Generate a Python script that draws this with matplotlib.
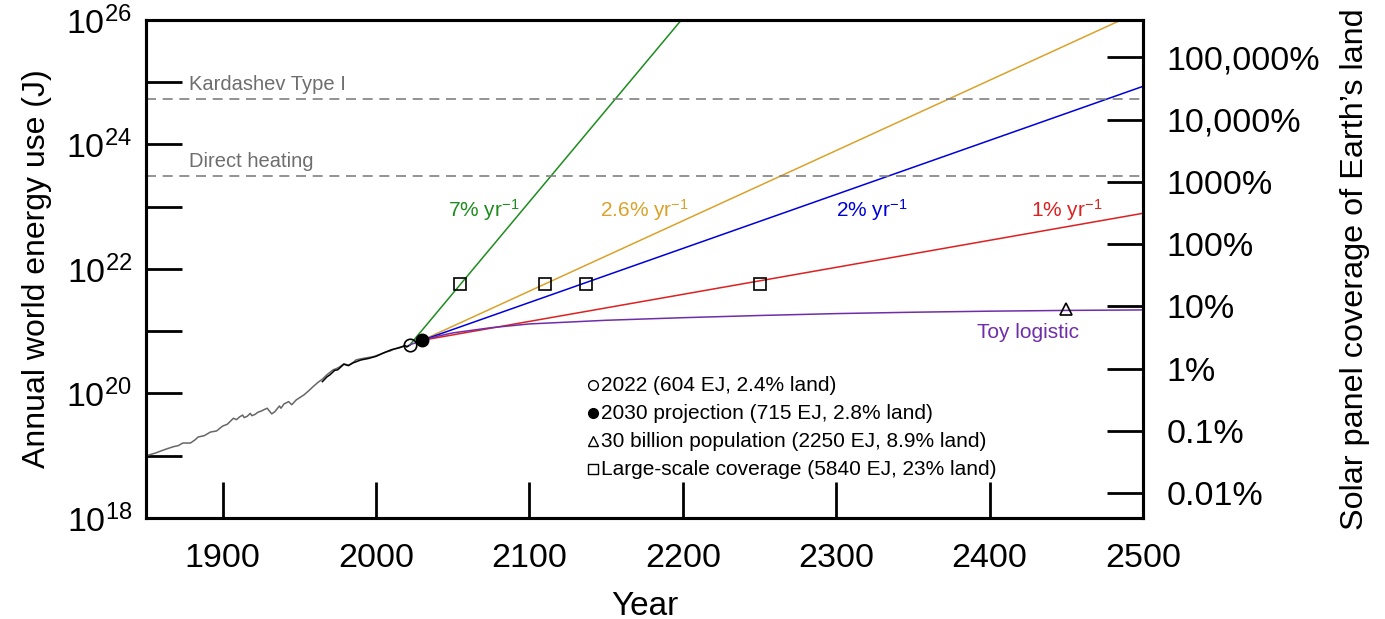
import numpy as np
import matplotlib
matplotlib.use("Agg")
import matplotlib.pyplot as plt
from matplotlib.ticker import FixedLocator, FixedFormatter, NullLocator

plt.rcParams['font.family'] = ['Liberation Sans', 'DejaVu Sans']
plt.rcParams['mathtext.fontset'] = 'custom'
plt.rcParams['mathtext.rm'] = 'Liberation Sans'
plt.rcParams['mathtext.it'] = 'Liberation Sans:italic'
plt.rcParams['mathtext.bf'] = 'Liberation Sans:bold'

# historical energy use (EJ), long series and recent series
hist_years = [1850, 1856, 1860, 1864, 1868, 1871, 1874, 1877, 1879, 1882, 1884, 1888,
              1892, 1896, 1900, 1903, 1907, 1909, 1911, 1913, 1914, 1916, 1918, 1919,
              1921, 1923, 1925, 1927, 1929, 1930, 1932, 1934, 1937, 1938, 1940, 1943,
              1945, 1946, 1948, 1950, 1953, 1956, 1959, 1962, 1965, 1968, 1972, 1974,
              1976, 1979, 1982, 1985, 1987, 1990, 1994, 1998, 2002, 2007, 2009, 2012,
              2015, 2019, 2020, 2022]
hist_ej = [10, 11, 12, 13, 14, 14.5, 16, 16, 16, 18, 20, 21,
           24, 25, 30, 32, 40, 38, 42, 45, 41, 43, 48, 44,
           46, 50, 52, 55, 58, 54, 47, 51, 63, 58, 68, 74,
           66, 70, 79, 85, 95, 110, 129, 150, 170, 200, 240, 250,
           265, 300, 285, 315, 347, 360, 375, 389, 420, 468, 480, 520,
           550, 590, 565, 604]

recent_years = [1965, 1968, 1970, 1973, 1975, 1979, 1982, 1985, 1990, 1995, 2000,
                2005, 2010, 2015, 2019, 2020, 2022]
recent_ej = [155, 185, 200, 235, 240, 295, 280, 310, 345, 365, 395,
             450, 505, 540, 585, 560, 598]

# growth scenarios: start point and end point (J)
scen_labels = ['7% yr$^{-1}$', '2.6% yr$^{-1}$', '2% yr$^{-1}$', '1% yr$^{-1}$']
scen_colors = ['#1e8c1e', '#daa22a', '#0000dd', '#dd2020']
scen_start_year = [2022, 2030, 2030, 2030]
scen_start_val = [6.04e20, 7.15e20, 7.15e20, 7.15e20]
scen_end_year = [2200, 2500, 2500, 2500]
scen_end_val = [1.07e26, 1.45e26, 8.6e24, 7.85e22]
scen_label_xy = [(2070, 9e22), (2175, 9e22), (2323, 9e22), (2450, 9e22)]

# toy logistic
logi_years = [2022, 2030, 2040, 2050, 2075, 2100, 2150, 2200, 2250, 2300, 2350, 2400, 2450, 2500]
logi_vals = [6.04e20, 7.15e20, 8.3e20, 9.4e20, 1.14e21, 1.31e21, 1.5e21, 1.65e21,
             1.79e21, 1.92e21, 2.02e21, 2.1e21, 2.16e21, 2.2e21]

# coverage markers
square_years = [2055, 2110, 2137, 2250]
square_val = 5.84e21
tri_year, tri_val = 2450, 2.25e21

kardashev = 5.4e24
direct_heat = 3.1e23
full_cover = 604e18 / 0.024   # J for 100% land

pct_ticks = [0.01, 0.1, 1, 10, 100, 1000, 10000, 100000]
pct_labels = ['0.01%', '0.1%', '1%', '10%', '100%', '1000%', '10,000%', '100,000%']

fig = plt.figure(figsize=(13.85, 6.19), dpi=100)
ax = fig.add_axes([0.1054, 0.1632, 0.7199, 0.8045])

ax.plot(hist_years, np.array(hist_ej) * 1e18, color='#666666', lw=1.1)
ax.plot(recent_years, np.array(recent_ej) * 1e18, color='black', lw=1.1)

for i in range(4):
    ax.plot([scen_start_year[i], scen_end_year[i]], [scen_start_val[i], scen_end_val[i]],
            color=scen_colors[i], lw=1.1)
    ax.text(scen_label_xy[i][0], scen_label_xy[i][1], scen_labels[i], color=scen_colors[i],
            fontsize=15, ha='center', va='center')

ax.plot(logi_years, logi_vals, color='#6f2da8', lw=1.1)
ax.text(2425, 9.5e20, 'Toy logistic', color='#6f2da8', fontsize=15, ha='center', va='center')

ax.axhline(kardashev, color='#808080', lw=1.2, ls=(0, (6, 4)))
ax.axhline(direct_heat, color='#808080', lw=1.2, ls=(0, (6, 4)))
ax.text(1878, kardashev * 1.2, 'Kardashev Type I', color='#6e6e6e', fontsize=14.5, va='bottom')
ax.text(1878, direct_heat * 1.2, 'Direct heating', color='#6e6e6e', fontsize=14.5, va='bottom')

ax.plot(square_years, [square_val] * len(square_years), ls='none', marker='s', ms=9,
        mfc='none', mec='black', mew=1.2)
ax.plot([tri_year], [tri_val], ls='none', marker='^', ms=8, mfc='none', mec='black', mew=1.2)
ax.plot([2022], [6.04e20], ls='none', marker='o', ms=9, mfc='none', mec='black', mew=1.2)
ax.plot([2030], [7.15e20], ls='none', marker='o', ms=9, mfc='black', mec='black')

# legend block
leg_items = [('o', 'none', '2022 (604 EJ, 2.4% land)'),
             ('o', 'black', '2030 projection (715 EJ, 2.8% land)'),
             ('^', 'none', '30 billion population (2250 EJ, 8.9% land)'),
             ('s', 'none', 'Large-scale coverage (5840 EJ, 23% land)')]
for k, (m, fc, txt) in enumerate(leg_items):
    yy = 0.267 - k * 0.0565
    ax.plot([0.4485], [yy], transform=ax.transAxes, marker=m, ms=7, mfc=fc, mec='black',
            mew=1.0, ls='none', clip_on=False)
    ax.text(0.4565, yy, txt, transform=ax.transAxes, fontsize=15, va='center', ha='left')

ax.set_yscale('log')
ax.set_xlim(1850, 2500)
ax.set_ylim(1e18, 1e26)
ax.set_xticks([1900, 2000, 2100, 2200, 2300, 2400, 2500])
ax.yaxis.set_major_locator(FixedLocator([10.0 ** e for e in range(18, 27)]))
ax.yaxis.set_major_formatter(FixedFormatter(
    ['$10^{%d}$' % e if e % 2 == 0 else '' for e in range(18, 27)]))
ax.yaxis.set_minor_locator(NullLocator())
ax.tick_params(axis='x', direction='in', length=26, width=2, labelsize=24.5, pad=18)
ax.tick_params(axis='y', direction='in', length=26, width=2, labelsize=24.5, pad=10)
ax.tick_params(axis='y', which='minor', length=0)
for s in ax.spines.values():
    s.set_linewidth(2.2)
ax.set_xlabel('Year', fontsize=24, labelpad=12)
ax.set_ylabel('Annual world energy use (J)', fontsize=23, labelpad=10)

ax2 = ax.twinx()
ax2.set_yscale('log')
ax2.set_ylim(1e18 / full_cover * 100, 1e26 / full_cover * 100)
ax2.yaxis.set_major_locator(FixedLocator(pct_ticks))
ax2.yaxis.set_major_formatter(FixedFormatter(pct_labels))
ax2.yaxis.set_minor_locator(NullLocator())
ax2.tick_params(axis='y', direction='in', length=26, width=2, labelsize=24.5, pad=17)
ax2.set_ylabel("Solar panel coverage of Earth\u2019s land", fontsize=23.3, labelpad=14)
for s in ax2.spines.values():
    s.set_linewidth(2.2)

fig.savefig('out.png', dpi=100)
